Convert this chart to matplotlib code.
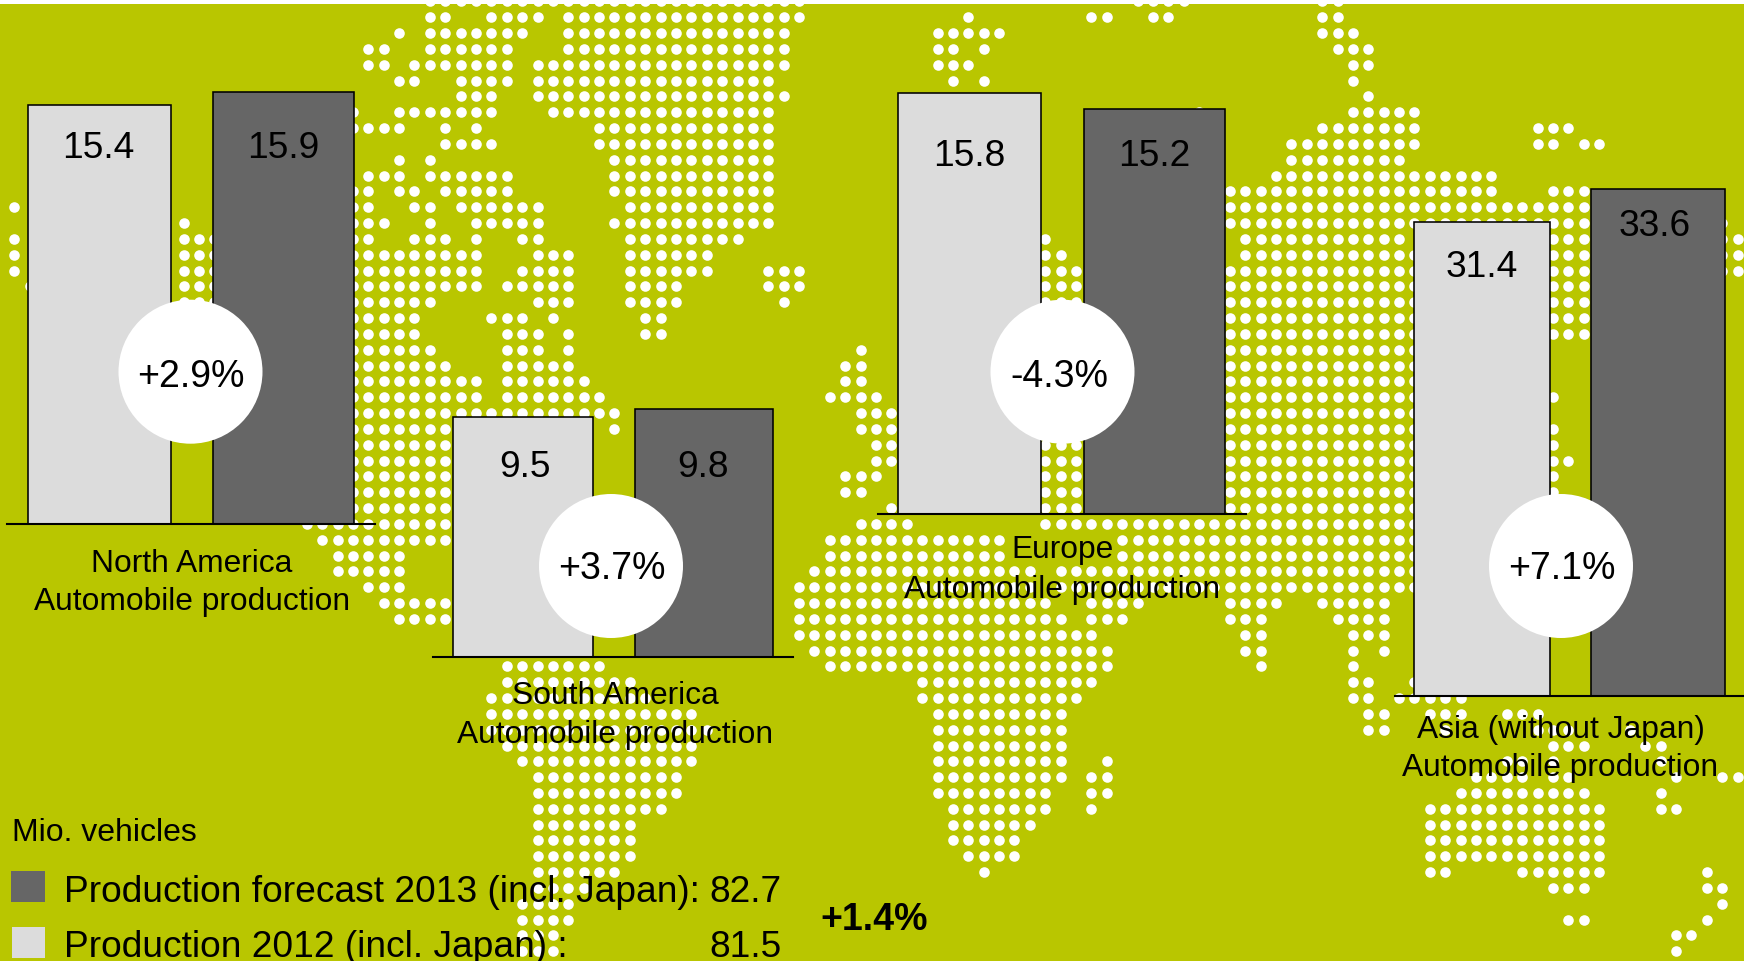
import matplotlib
matplotlib.use("Agg")
import matplotlib.pyplot as plt
from matplotlib.patches import Circle, Rectangle

plt.rcParams['font.family'] = ['Liberation Sans', 'DejaVu Sans']

W, H = 1744, 962
OLIVE = '#B9C600'
LIGHT = '#DCDCDC'
DARK = '#666666'

regions = ['North America', 'South America', 'Europe', 'Asia (without Japan)']
prod_2012 = [15.4, 9.5, 15.8, 31.4]
prod_2013 = [15.9, 9.8, 15.2, 33.6]
changes = ['+2.9%', '+3.7%', '-4.3%', '+7.1%']

subtitle = 'Automobile production'
unit_label = 'Mio. vehicles'
legend_2013 = 'Production forecast 2013 (incl. Japan):'
legend_2012 = 'Production 2012 (incl. Japan) :'
total_2013 = '82.7'
total_2012 = '81.5'
total_change = '+1.4%'

# dot map: grid columns with a dot, one entry per row, starting at row -1
map_rows = [
    "27-51 73-76 85-86",
    "27-28 31-34 36-51 62 70-71 74-75 85-86",
    "25 27-33 36-50 60-64 85-87",
    "23-24 27-32 36-50 60-61 63 86-88",
    "23-24 26-32 34-50 60-62 87-88",
    "25-26 29-32 34-49 61 63 87",
    "29-31 34-50 88",
    "22 25-31 35-49 77 87-91",
    "22-25 28 30 38-49 85-91 99-101",
    "28-31 38-49 83-91 99-100 102-103",
    "25 27 39-49 83-90",
    "23-25 27-32 39-49 82-96",
    "22-23 25-26 28-32 39-49 79-96 100-102",
    "0 22-23 26-27 29-34 40-49 79-102",
    "11 22-24 27 30-34 39-49 79-102 111",
    "0 11-13 22-23 26-28 30 33-34 40-47 67 80-90 100-102 111-112",
    "0 11-13 22-30 34-36 40-45 67-68 80-91 100-102 111-112",
    "0 11-13 22-30 33-36 40-45 49-51 67-69 79-91 100-102 111-112",
    "1 11-13 22-30 32-36 40-43 49-51 67-69 79-91 100-102",
    "11-13 22-27 34-36 40-43 50 67-69 79-91 100-102",
    "22-26 31-33 35 41-42 79-91 100-102",
    "22-26 32-34 36 41-42 79-91 100-102",
    "22-27 32-34 36 55 79-91",
    "22-28 32-36 54-55 79-91",
    "22-30 32-37 54-55 79-91",
    "22-30 32-38 53-56 79-91 100",
    "22-39 55-57 79-91",
    "22-28 39 55-57 79-91 100",
    "22-28 56-57 67-69 79-91 100",
    "22-28 56-57 67-69 79-91 100-101",
    "22-28 54-56 67-69 79-91 100",
    "22-28 54-55 67-69 79-91 100",
    "22-28 57 67-69 79-91",
    "19-28 55-58 67-91",
    "20-28 53-64 72-91",
    "21-25 53-64 72-91",
    "21-25 52-66 68-91",
    "23-25 51-66 68-91",
    "24-28 51-67 70-73 79-82 85-89",
    "25-28 51-68 70-72 79-81 86-89",
    "51-70 80-81 87-89",
    "52-71 80-81 87 89",
    "32-38 53-71 81 87",
    "32-40 59-70 87-88 91",
    "31-41 59-69 87-88 90-94",
    "31-44 60-68 88-89 92-94 97-99",
    "31-45 60-68 88-89 93 99-101 105",
    "32-44 60-68 100-102 106-107",
    "33-44 60-68 71 97-98 100 107",
    "34-43 60-68 70-71 95-98 100-101 108 111-112",
    "34-43 60-67 70-71 94-102 107",
    "34-42 61-67 70 92-103 107-108",
    "34-40 61-66 92-103",
    "34-40 61-65 92-103",
    "34-40 62-65 92-103",
    "34-39 63 92-93 98-103 110",
    "34-37 100-102 110-111",
    "33-36 111",
    "33-36 101-102 110",
    "33-35 108-109",
    "33-35 108",
]


def expand_rows(rows):
    """Turn the run strings into column and row lists."""
    cols, row_ids = [], []
    for i, row in enumerate(rows):
        for run in row.split():
            start, _, end = run.partition('-')
            for c in range(int(start), int(end or start) + 1):
                cols.append(c)
                row_ids.append(i - 1)
    return cols, row_ids


def pixel_axes(fig, top=0, zorder=0):
    """Axes that fill the figure and use reference pixels as data units."""
    ax = fig.add_axes([0, 0, 1, (H - top) / H], zorder=zorder)
    ax.set_xlim(0, W)
    ax.set_ylim(H, top)
    ax.set_xticks([])
    ax.set_yticks([])
    for s in ax.spines.values():
        s.set_visible(False)
    return ax


def bar_axes(fig, x0, x1, base, px_per_unit, v1, v2):
    """One pair of bars on its own baseline."""
    ymax = max(v1, v2) * 1.05
    height = ymax * px_per_unit
    ax = fig.add_axes([x0 / W, (H - base) / H, (x1 - x0) / W, height / H], zorder=2)
    ax.patch.set_visible(False)
    ax.bar([0, 1.005], [v1, v2], width=[0.777, 0.767], color=[LIGHT, DARK], edgecolor='black', linewidth=1.15)
    ax.set_xlim(-0.5, 1.5)
    ax.set_ylim(0, ymax)
    ax.set_xticks([])
    ax.set_yticks([])
    for name in ['top', 'left', 'right']:
        ax.spines[name].set_visible(False)
    ax.spines['bottom'].set_linewidth(1.5)
    return ax


fig = plt.figure(figsize=(W / 100, H / 100), dpi=100, facecolor='white')

# background with the dots
bg = pixel_axes(fig, top=5)
bg.set_facecolor(OLIVE)
cols, row_ids = expand_rows(map_rows)
bg.scatter([14.46 + 15.385 * c for c in cols], [18.33 + 15.83 * r for r in row_ids],
           s=58, color='white', linewidths=0)

# bars
bar_x = [(7.2, 374.8), (432.7, 792.6), (877.6, 1245.7), (1394.8, 1745)]
bar_base = [525.2, 658.2, 514.6, 696.5]
bar_scale = [27.2, 25.3, 26.6, 15.08]
for i in range(4):
    bar_axes(fig, bar_x[i][0], bar_x[i][1], bar_base[i], bar_scale[i], prod_2012[i], prod_2013[i])

# circles and all text go on top
top = pixel_axes(fig, zorder=5)
top.patch.set_visible(False)

value_x = [(98.7, 283.6), (524.5, 702.5), (969.3, 1154.5), (1482, 1655)]
value_base = [(158.3, 158.3), (476.7, 476.7), (165.7, 165.7), (276.7, 236)]
for i in range(4):
    top.text(value_x[i][0], value_base[i][0], f'{prod_2012[i]:.1f}', ha='center', va='baseline', fontsize=26.7)
    top.text(value_x[i][1], value_base[i][1], f'{prod_2013[i]:.1f}', ha='center', va='baseline', fontsize=26.7)

circle_xy = [(190.5, 372.7), (611, 567), (1062.5, 372.7), (1561, 567)]
change_xy = [(191, 386.7), (611.8, 579.3), (1059.4, 386.7), (1562, 579.3)]
for i in range(4):
    top.add_patch(Circle(circle_xy[i], 72, facecolor='white', edgecolor='none'))
    top.text(change_xy[i][0], change_xy[i][1], changes[i], ha='center', va='baseline', fontsize=27)

label_x = [191.9, 615, 1062, 1560.5]
label_base = [(571.7, 609.8), (703.7, 742.7), (558.3, 597.7), (737.7, 776)]
for i in range(4):
    top.text(label_x[i], label_base[i][0], regions[i], ha='center', va='baseline', fontsize=22.9)
    top.text(label_x[i], label_base[i][1], subtitle, ha='center', va='baseline', fontsize=22.9)

# legend block
top.text(12.2, 841, unit_label, ha='left', va='baseline', fontsize=23)
top.add_patch(Rectangle((11, 872), 34, 31, facecolor=DARK, edgecolor='none'))
top.add_patch(Rectangle((12, 927.7), 33, 31, facecolor=LIGHT, edgecolor='none'))
top.text(64, 902.5, legend_2013, ha='left', va='baseline', fontsize=26.7)
top.text(64, 957, legend_2012, ha='left', va='baseline', fontsize=26.7)
top.text(781.4, 902.5, total_2013, ha='right', va='baseline', fontsize=26.7)
top.text(781.4, 957, total_2012, ha='right', va='baseline', fontsize=26.7)
top.text(820.4, 930.5, total_change, ha='left', va='baseline', fontsize=27, fontweight='bold')

fig.savefig('out.png', dpi=100, facecolor='white')
